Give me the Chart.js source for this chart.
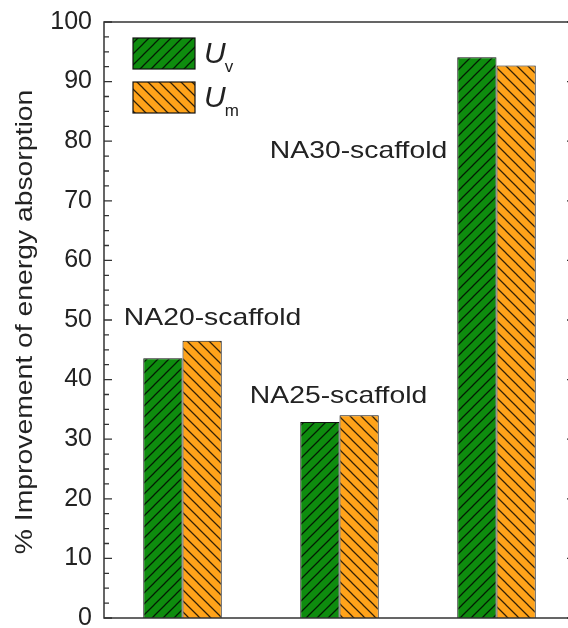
<!DOCTYPE html>
<html>
<head>
<meta charset="utf-8">
<script src="https://cdn.jsdelivr.net/npm/chart.js@4/dist/chart.umd.min.js"></script>
<style>
  html, body { margin: 0; padding: 0; background: #fff; overflow: hidden; }
  #wrap { width: 568px; height: 628px; overflow: hidden; position: relative; }
  canvas { display: block; }
</style>
</head>
<body>
<div id="wrap"><canvas id="c" width="590" height="640"></canvas></div>
<script>
// ---- data ----
const categories = ['NA20-scaffold', 'NA25-scaffold', 'NA30-scaffold'];
const uvValues = [43.6, 32.9, 94.1];
const umValues = [46.5, 34.0, 92.7];
const seriesBase = ['U', 'U'];
const seriesSub = ['v', 'm'];
const yMajorTicks = [0, 10, 20, 30, 40, 50, 60, 70, 80, 90, 100];
const yMinorTicks = [2.5, 5, 7.5, 12.5, 15, 17.5, 22.5, 25, 27.5, 32.5, 35, 37.5, 42.5, 45, 47.5,
  52.5, 55, 57.5, 62.5, 65, 67.5, 72.5, 75, 77.5, 82.5, 85, 87.5, 92.5, 95, 97.5];
const yTitle = '% Improvement of energy absorption';

// ---- styles ----
const FONT = '"Liberation Sans", Arial, Helvetica, sans-serif';
const GREEN = '#0e8c0e';
const ORANGE = '#ffa31a';
const STRETCH = 1.18;

function makeHatch(bg, dir) {
  const s = 11;
  const c = document.createElement('canvas');
  c.width = s; c.height = s;
  const g = c.getContext('2d');
  g.fillStyle = bg; g.fillRect(0, 0, s, s);
  g.strokeStyle = 'rgba(0,0,0,0.8)';
  g.lineWidth = 1.25;
  g.beginPath();
  if (dir === '/') {
    g.moveTo(-1, s + 1); g.lineTo(s + 1, -1);
    g.moveTo(-1, 1); g.lineTo(1, -1);
    g.moveTo(s - 1, s + 1); g.lineTo(s + 1, s - 1);
  } else {
    g.moveTo(-1, -1); g.lineTo(s + 1, s + 1);
    g.moveTo(-1, s - 1); g.lineTo(1, s + 1);
    g.moveTo(s - 1, -1); g.lineTo(s + 1, 1);
  }
  g.stroke();
  return g.createPattern(c, 'repeat');
}
const ctx0 = document.getElementById('c').getContext('2d');
const greenHatch = makeHatch(GREEN, '/');
const orangeHatch = makeHatch(ORANGE, '\\');
const fills = [greenHatch, orangeHatch];

// annotation placement (pixel offsets from category center, y in data units)
const annot = [
  { dx: 30, y: 49.2 },
  { dx: -1, y: 36.0 },
  { dx: -138, y: 77.1 }
];

const decor = {
  id: 'decor',
  afterDraw(chart) {
    const { ctx, chartArea: a, scales } = chart;
    const ys = scales.y, xs = scales.x;
    ctx.save();
    // frame
    ctx.strokeStyle = '#333';
    ctx.lineWidth = 1.5;
    ctx.strokeRect(a.left, a.top, a.right - a.left, a.bottom - a.top);
    // ticks (inward)
    ctx.lineWidth = 1.3;
    ctx.beginPath();
    yMajorTicks.forEach(v => {
      const y = ys.getPixelForValue(v);
      ctx.moveTo(a.left, y); ctx.lineTo(a.left + 8, y);
      ctx.moveTo(a.right, y); ctx.lineTo(a.right - 8, y);
    });
    yMinorTicks.forEach(v => {
      const y = ys.getPixelForValue(v);
      ctx.moveTo(a.left, y); ctx.lineTo(a.left + 5, y);
      ctx.moveTo(a.right, y); ctx.lineTo(a.right - 5, y);
    });
    ctx.stroke();

    // y title (rotated, stretched)
    ctx.fillStyle = '#222';
    ctx.font = '24px ' + FONT;
    ctx.textAlign = 'center';
    ctx.textBaseline = 'alphabetic';
    ctx.save();
    ctx.translate(32, (a.top + a.bottom) / 2 + 2);
    ctx.rotate(-Math.PI / 2);
    ctx.scale(STRETCH, 1);
    ctx.fillText(yTitle, 0, 0);
    ctx.restore();

    // category annotations
    categories.forEach((name, i) => {
      const x = xs.getPixelForValue(i) + annot[i].dx;
      const y = ys.getPixelForValue(annot[i].y);
      ctx.save();
      ctx.translate(x, y);
      ctx.scale(STRETCH, 1);
      ctx.fillText(name, 0, 0);
      ctx.restore();
    });

    // legend
    const boxes = [{ x: 133, y: 38 }, { x: 133, y: 82 }];
    boxes.forEach((b, i) => {
      ctx.fillStyle = fills[i];
      ctx.fillRect(b.x, b.y, 62, 31);
      ctx.strokeStyle = '#111';
      ctx.lineWidth = 1.2;
      ctx.strokeRect(b.x, b.y, 62, 31);
      ctx.fillStyle = '#222';
      ctx.textAlign = 'left';
      ctx.font = 'italic 30px ' + FONT;
      ctx.fillText(seriesBase[i], 204, b.y + 25);
      const w = ctx.measureText(seriesBase[i]).width;
      ctx.font = '17px ' + FONT;
      ctx.fillText(seriesSub[i], 204 + w - 1, b.y + 34);
    });
    ctx.restore();
  }
};

new Chart(ctx0, {
  type: 'bar',
  data: {
    labels: categories,
    datasets: [
      { label: 'Uv', data: uvValues, backgroundColor: greenHatch, borderColor: '#111', borderWidth: 1 },
      { label: 'Um', data: umValues, backgroundColor: orangeHatch, borderColor: '#111', borderWidth: 1 }
    ]
  },
  options: {
    responsive: false,
    devicePixelRatio: 1,
    animation: false,
    layout: { padding: { top: 22, bottom: 22, left: 0, right: 15 } },
    datasets: { bar: { categoryPercentage: 0.5, barPercentage: 1.0 } },
    plugins: { legend: { display: false }, tooltip: { enabled: false }, title: { display: false } },
    scales: {
      x: { type: 'category', display: false, offset: true },
      y: {
        min: 0, max: 100,
        grid: { display: false, drawTicks: false },
        border: { display: false },
        ticks: {
          stepSize: 10, padding: 12, color: '#222',
          font: { family: FONT, size: 25, lineHeight: 0.7 }
        },
        afterFit(scale) { scale.width = 104; }
      }
    }
  },
  plugins: [decor]
});
</script>
</body>
</html>
